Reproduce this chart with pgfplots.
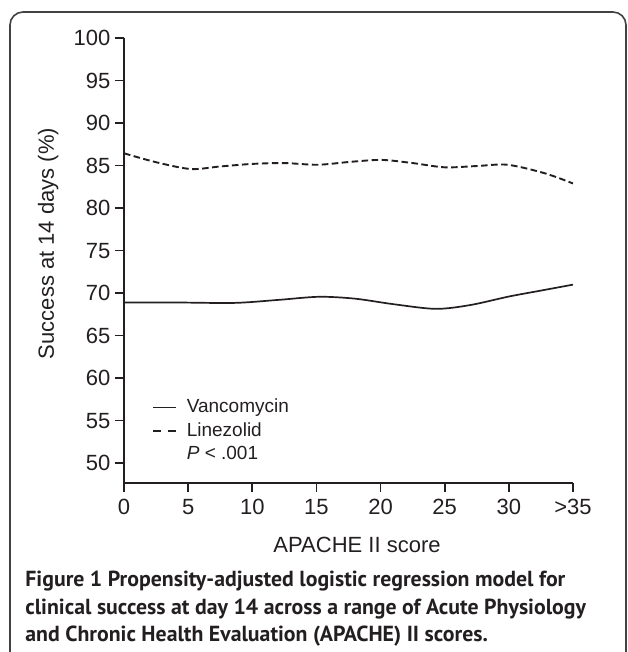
\documentclass[border=0pt]{standalone}
\usepackage{fontspec}
\setmainfont{Liberation Sans}
\newfontfamily\capfont{PT Sans}
\usepackage{pgfplots}
\pgfplotsset{compat=1.18}
\definecolor{ink}{HTML}{231F20}
\begin{document}
\begin{tikzpicture}
\useasboundingbox (0,0) rectangle (313.5pt,-326pt);
\draw[line width=0.8pt, color=ink!85, rounded corners=6.5pt] (5pt,-6pt) rectangle (313pt,-345pt);
\begin{axis}[at={(62pt,-241.35pt)}, anchor=south west, scale only axis,
  width=224.5pt, height=222.3pt,
  xmin=0, xmax=35, ymin=47.7, ymax=100,
  axis x line=bottom, axis y line=left,
  axis line style={-, line width=0.8pt, ink},
  tick align=outside, major tick length=4.75pt,
  tick style={line width=0.8pt, ink},
  xtick={0,5,...,35}, xticklabels={0,5,10,15,20,25,30,>35},
  ytick={50,55,...,100},
  /pgf/number format/assume math mode=true,
  tick label style={font=\fontsize{11}{13}\selectfont, text=ink},
  yticklabel style={xshift=1.5pt},
  xlabel={APACHE II score}, ylabel={Success at 14 days (\%)},
  label style={font=\fontsize{11}{13}\selectfont, text=ink},
  xlabel style={at={(axis description cs:0.519,-0.139)}, anchor=center},
  ylabel style={at={(axis description cs:-0.169,0.538)}, anchor=center},
  legend style={at={(axis description cs:0.062,0.198)}, anchor=north west,
    draw=none, fill=none, font=\fontsize{9.5}{11}\selectfont, text=ink,
    row sep=-0.5pt, column sep=3pt, inner sep=0pt},
  legend cell align=left,
  legend image code/.code={\draw[#1] (0pt,0pt) -- (11.5pt,0pt);},
]
\addplot[forget plot, smooth, ink, line width=0.85pt] table {
x y
0 68.9
4 68.9
8.6 68.85
12 69.2
15.2 69.57
18 69.35
21 68.7
24.3 68.15
27 68.6
30 69.6
32.5 70.3
35 71.0
};
\addplot[forget plot, smooth, ink, line width=0.95pt, dash pattern=on 3.3pt off 1.7pt] table {
x y
0 86.45
2.5 85.4
5.2 84.6
7.5 84.9
10 85.2
12.5 85.3
15.1 85.1
17.7 85.45
20.1 85.67
22.5 85.3
25 84.8
27.5 84.95
29.9 85.1
32.8 84.1
35 82.9
};
\addlegendimage{ink, line width=0.8pt}
\addlegendentry{Vancomycin}
\addlegendimage{ink, line width=0.8pt, dash pattern=on 4pt off 3.5pt}
\addlegendentry{Linezolid}
\addlegendimage{draw opacity=0, opacity=0}
\addlegendentry{\textit{P} < .001}
\end{axis}
\begin{scope}[every node/.style={anchor=base west, inner sep=0pt, text=ink, font=\capfont\bfseries\fontsize{10.9}{13}\selectfont}]
\node at (12.5pt,-293.25pt) {Figure 1 Propensity-adjusted logistic regression model for};
\node at (12.5pt,-307.25pt) {clinical success at day 14 across a range of Acute Physiology};
\node at (12.5pt,-320.75pt) {and Chronic Health Evaluation (APACHE) II scores.};
\end{scope}
\end{tikzpicture}
\end{document}
